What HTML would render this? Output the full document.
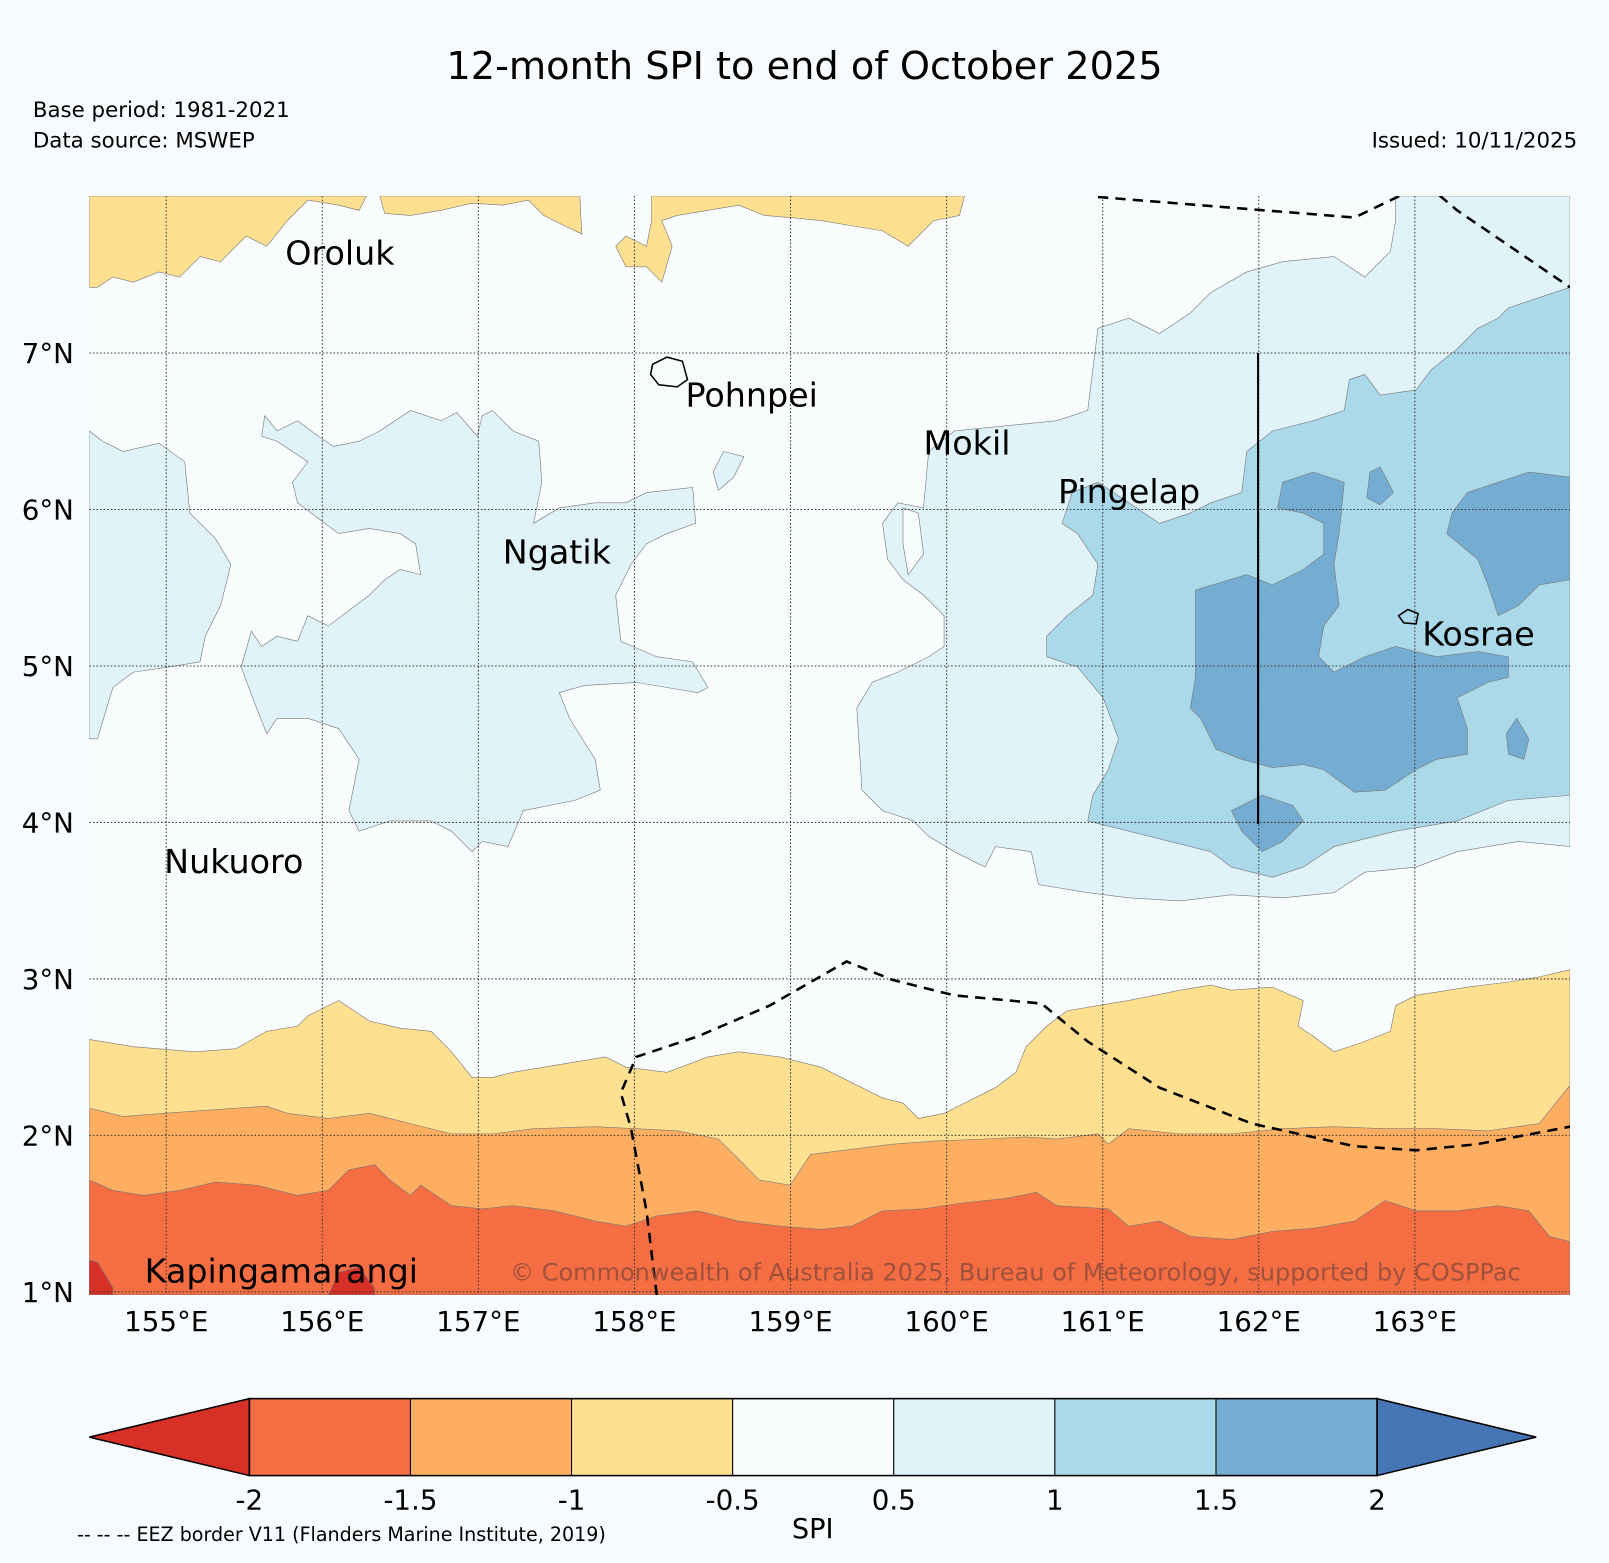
<!DOCTYPE html>
<html><head><meta charset="utf-8">
<style>
body{margin:0;background:#f7fbfd;font-family:"Liberation Sans","DejaVu Sans",sans-serif;}
svg{display:block}
svg text{font-family:"DejaVu Sans","Liberation Sans",sans-serif;}
</style></head>
<body>
<svg id="chart" width="1609" height="1563" viewBox="0 0 1568 1523.2" preserveAspectRatio="none" xmlns="http://www.w3.org/2000/svg">
<rect width="1568" height="1524" fill="#f7fbfd"/>
<text x="784" y="77" font-size="37.3" text-anchor="middle">12-month SPI to end of October 2025</text>
<text x="32" y="114" font-size="20.8">Base period: 1981-2021</text>
<text x="32" y="144" font-size="20.8">Data source: MSWEP</text>
<text x="1537" y="144" font-size="20.8" text-anchor="end">Issued: 10/11/2025</text>
<defs><clipPath id="mapclip"><rect x="87" y="191" width="1443" height="1071"/></clipPath></defs>
<g id="map" clip-path="url(#mapclip)">
<rect x="87" y="191" width="1443" height="1071" fill="#f9fcfd"/>
<g stroke="#777" stroke-width="0.6">
<polygon fill="#fee090" points="87,191 357,191 350,205 330,200 300,195 280,215 260,240 240,230 215,255 195,250 175,270 155,265 130,275 110,270 95,280 87,280"/>
<polygon fill="#fee090" points="370,191 565,191 567,228 550,220 530,210 515,195 490,200 460,198 430,205 400,210 375,208"/>
<polygon fill="#fee090" points="635,191 940,191 935,210 910,215 885,240 860,225 830,220 800,215 770,212 745,210 720,200 690,205 660,210 645,215 655,240 645,275 630,260 610,260 600,240 610,230 630,240 635,215"/>
<polygon fill="#e0f3f8" points="1360,191 1530,191 1530,825 1480,820 1420,830 1380,845 1330,850 1300,870 1250,875 1200,872 1150,878 1100,875 1060,870 1012,862 1005,830 970,825 960,845 930,830 905,815 890,800 860,790 840,770 835,690 850,665 875,655 905,640 920,630 920,600 900,580 880,565 865,545 860,510 875,490 900,495 905,440 930,420 980,415 1030,410 1060,400 1070,320 1100,310 1130,325 1160,305 1180,285 1215,265 1250,255 1300,250 1330,270 1355,245 1360,215"/>
<polygon fill="#f9fcfd" points="880,495 895,500 900,540 885,560 880,530"/>
<polygon fill="#abd9e9" points="1530,280 1500,290 1470,300 1460,310 1440,320 1420,340 1395,360 1380,380 1345,385 1330,365 1315,370 1310,400 1280,410 1240,420 1215,440 1210,480 1180,490 1160,500 1130,510 1100,490 1070,470 1045,480 1035,510 1050,520 1070,550 1065,580 1040,600 1020,620 1020,640 1050,650 1075,680 1090,720 1080,750 1065,775 1060,800 1100,810 1140,820 1180,830 1200,845 1240,855 1270,845 1300,825 1360,810 1420,800 1470,780 1530,775"/>
<polygon fill="#74add1" points="1165,575 1215,560 1240,570 1270,555 1290,540 1290,510 1270,500 1245,495 1250,470 1280,460 1310,470 1305,520 1300,550 1305,590 1290,610 1285,640 1300,655 1330,640 1360,630 1400,640 1440,635 1470,640 1470,660 1450,665 1420,680 1430,710 1430,735 1400,740 1380,750 1350,770 1320,772 1290,750 1270,745 1240,748 1210,740 1185,730 1170,700 1160,690 1165,660"/>
<polygon fill="#74add1" points="1200,790 1230,775 1260,785 1270,800 1250,820 1230,830 1210,810"/>
<polygon fill="#74add1" points="1530,465 1490,460 1460,470 1430,480 1415,500 1410,520 1440,545 1450,570 1460,600 1480,590 1500,570 1530,565"/>
<polygon fill="#74add1" points="1335,460 1345,455 1358,480 1345,492 1332,485"/>
<polygon fill="#74add1" points="1478,700 1490,720 1485,740 1470,735 1468,715"/>
<polygon fill="#e0f3f8" points="87,420 100,430 120,440 155,432 180,450 185,500 210,525 225,550 215,590 200,620 195,645 165,650 130,655 110,670 95,720 87,720"/>
<polygon fill="#e0f3f8" points="258,405 270,420 290,410 310,425 325,435 350,430 370,420 400,400 430,410 445,402 465,425 470,405 480,400 500,420 525,430 528,470 520,510 545,495 580,490 610,490 630,480 675,475 678,510 650,520 630,530 615,550 600,580 605,625 640,640 675,645 690,670 680,675 650,670 620,665 570,668 545,675 555,700 580,740 585,770 560,780 510,790 495,825 470,820 460,830 440,810 420,800 380,800 350,810 340,790 350,740 330,710 300,700 270,700 260,715 250,690 235,650 245,615 255,630 270,620 290,625 300,600 320,610 340,595 360,580 375,565 390,555 410,560 405,530 390,520 360,515 330,520 310,505 290,490 285,470 300,450 270,430 255,425"/>
<polygon fill="#e0f3f8" points="705,440 725,445 715,465 700,478 695,460"/>
<polygon fill="#fee090" points="87,1013 130,1020 190,1025 230,1022 260,1005 290,1000 300,990 330,975 360,995 390,1002 420,1005 440,1025 460,1050 480,1050 500,1045 530,1040 560,1035 590,1030 610,1040 650,1045 690,1030 720,1025 760,1030 800,1040 830,1055 860,1070 880,1075 895,1090 920,1085 950,1070 970,1060 990,1045 1000,1020 1020,1000 1040,985 1070,980 1100,975 1150,965 1180,960 1200,965 1240,962 1270,975 1265,1000 1280,1010 1300,1025 1330,1015 1355,1005 1360,980 1380,970 1430,962 1470,957 1500,952 1530,945 1530,1262 87,1262"/>
<polygon fill="#fdae61" points="87,1080 120,1088 160,1085 200,1082 260,1078 280,1085 320,1090 360,1085 400,1095 440,1105 480,1105 520,1100 580,1098 620,1100 660,1102 700,1110 720,1130 740,1150 770,1155 790,1125 830,1120 870,1115 910,1112 960,1110 1000,1108 1030,1110 1070,1105 1080,1115 1100,1100 1150,1105 1200,1105 1250,1100 1300,1098 1350,1100 1400,1100 1450,1102 1500,1095 1520,1070 1530,1058 1530,1262 87,1262"/>
<polygon fill="#f46d43" points="87,1150 110,1160 140,1165 175,1160 210,1152 250,1155 290,1165 320,1160 340,1140 365,1135 380,1150 400,1165 410,1155 440,1175 470,1178 500,1175 540,1180 580,1190 610,1195 640,1185 680,1180 720,1190 760,1195 800,1198 830,1195 860,1180 900,1178 940,1172 980,1168 1010,1162 1030,1175 1080,1178 1100,1195 1130,1190 1160,1205 1200,1208 1240,1200 1280,1197 1320,1190 1350,1170 1380,1180 1420,1180 1460,1175 1490,1180 1510,1205 1530,1210 1530,1262 87,1262"/>
<polygon fill="#d73027" points="87,1228 95,1230 110,1255 110,1262 87,1262"/>
<polygon fill="#d73027" points="320,1262 330,1240 350,1235 365,1255 365,1262"/>
</g>
<g id="grid" stroke="#333" stroke-width="1" stroke-dasharray="1.5,2"></g>
<g fill="none" stroke="#000" stroke-width="2.5" stroke-dasharray="10,7">
<polyline points="1070,192 1320,212 1370,188 1400,188 1420,205 1530,280"/>
<polyline points="640,1262 630,1180 615,1100 605,1065 620,1030 680,1010 750,980 825,937 870,955 930,970 1015,978 1060,1015 1130,1060 1220,1095 1320,1117 1380,1121 1440,1115 1530,1098"/>
</g>
<line x1="1226" y1="344" x2="1226" y2="803" stroke="#000" stroke-width="2"/>
<path d="M636,355 L650,348 L665,352 L670,370 L660,377 L642,375 L634,365 Z" fill="none" stroke="#000" stroke-width="1.5"/>
<path d="M1363,600 L1372,594 L1382,598 L1380,608 L1368,607 Z" fill="none" stroke="#000" stroke-width="1.5"/>
<g font-size="32.5" fill="#000">
<text x="278" y="258">Oroluk</text>
<text x="668" y="396">Pohnpei</text>
<text x="900" y="443">Mokil</text>
<text x="1031" y="490">Pingelap</text>
<text x="490" y="549">Ngatik</text>
<text x="1386" y="629">Kosrae</text>
<text x="160" y="851">Nukuoro</text>
<text x="141" y="1250">Kapingamarangi</text>
</g>
<text x="1482" y="1248" font-size="23.4" fill="#8b4a3a" fill-opacity="0.8" text-anchor="end">© Commonwealth of Australia 2025, Bureau of Meteorology, supported by COSPPac</text>
</g>
<g id="axes" font-size="27"></g>
<g id="colorbar"></g>
<text x="792" y="1499" font-size="26.5" text-anchor="middle">SPI</text>
<text x="75" y="1502" font-size="18.6">-- -- -- EEZ border V11 (Flanders Marine Institute, 2019)</text>
</svg>
<script>
const lonTicks=[155,156,157,158,159,160,161,162,163];
const latTicks=[1,2,3,4,5,6,7];
const cbLevels=[-2,-1.5,-1,-0.5,0.5,1,1.5,2];
const cbColors=["#f46d43","#fdae61","#fee090","#f9fcfd","#e0f3f8","#abd9e9","#74add1"];
const cbUnder="#d73027", cbOver="#4575b4";
const NS="http://www.w3.org/2000/svg";
const xLon=v=>162+(v-155)*152.1;
const yLat=v=>1259-(v-1)*152.5;
function mk(t,a,p){const e=document.createElementNS(NS,t);for(const k in a)e.setAttribute(k,a[k]);p.appendChild(e);return e;}
const grid=document.getElementById('grid'),axes=document.getElementById('axes');
lonTicks.forEach(v=>{
 const l=mk('line',{x1:xLon(v),x2:xLon(v),y1:191,y2:1262},grid);
 
 
 const t=mk('text',{x:xLon(v),y:1297,'text-anchor':'middle'},axes);t.textContent=v+'°E';
 
 
});
latTicks.forEach(v=>{
 const l=mk('line',{x1:87,x2:1530,y1:yLat(v),y2:yLat(v)},grid);
 
 
 const t=mk('text',{x:72,y:yLat(v)+10,'text-anchor':'end'},axes);t.textContent=v+'°N';
 
 
});
const cb=document.getElementById('colorbar');
const cx0=243,cw=157,cy=1363,ch=75;
cbColors.forEach((c,i)=>{
 const r=mk('rect',{x:cx0+i*cw,y:cy,width:cw,height:ch,fill:c,stroke:'#000','stroke-width':1},cb);
 
 
});
const cxe=cx0+cbColors.length*cw;
const tl=mk('polygon',{points:`${cx0},${cy} 87,${cy+ch/2} ${cx0},${cy+ch}`,fill:cbUnder,stroke:'#000','stroke-width':1.5},cb);


const tr=mk('polygon',{points:`${cxe},${cy} 1497,${cy+ch/2} ${cxe},${cy+ch}`,fill:cbOver,stroke:'#000','stroke-width':1.5},cb);


mk('rect',{x:cx0,y:cy,width:cxe-cx0,height:ch,fill:'none',stroke:'#000','stroke-width':1.5},cb);
cbLevels.forEach((v,i)=>{
 const t=mk('text',{x:cx0+i*cw,y:1471,'text-anchor':'middle','font-size':27},cb);t.textContent=v;
 
 
});
</script>
</body></html>
